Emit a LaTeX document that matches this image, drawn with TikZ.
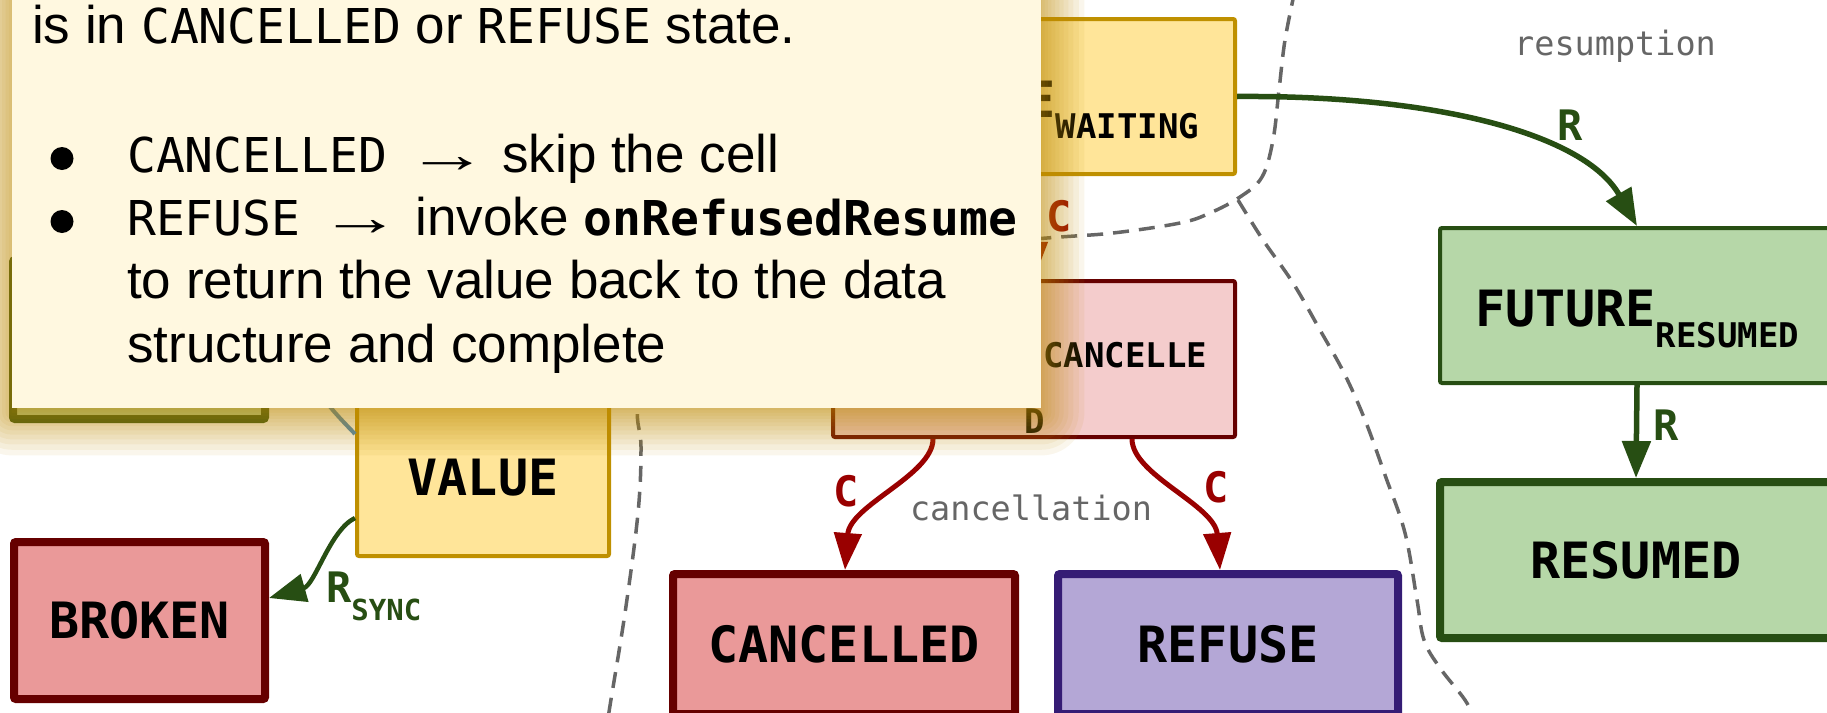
\documentclass[tikz,border=0pt]{standalone}
\usepackage{fontspec}
\setmainfont{Liberation Sans}
\newfontfamily\dmono{DejaVu Sans Mono}
\usetikzlibrary{arrows.meta,calc}

\definecolor{gfill}{HTML}{B6D7A8}
\definecolor{gdark}{HTML}{274E13}
\definecolor{yfill}{HTML}{FFE599}
\definecolor{ydark}{HTML}{BF9000}
\definecolor{pfill}{HTML}{F4CCCC}
\definecolor{rdark}{HTML}{660000}
\definecolor{rfill}{HTML}{EA9999}
\definecolor{vfill}{HTML}{B4A7D6}
\definecolor{vdark}{HTML}{351C75}
\definecolor{carrowc}{HTML}{990000}
\definecolor{bluec}{HTML}{3D85C6}
\definecolor{grayc}{HTML}{666666}
\definecolor{tipfill}{HTML}{FFF8E0}
\definecolor{shadowc}{RGB}{190,140,10}

\newcommand{\mybig}{\dmono\bfseries\fontsize{50}{60}\selectfont}
\newcommand{\mysub}{\dmono\bfseries\fontsize{34}{40}\selectfont}
\newcommand{\mylab}{\dmono\bfseries\fontsize{42}{50}\selectfont}
\newcommand{\mysync}{\dmono\bfseries\fontsize{29}{35}\selectfont}
\newcommand{\mygray}{\dmono\fontsize{33.5}{40}\selectfont}
\newcommand{\mysans}{\normalfont\fontsize{53}{64}\selectfont}
\newcommand{\mymono}{\dmono\fontsize{48}{58}\selectfont}
\newcommand{\mymonob}{\dmono\bfseries\fontsize{48}{58}\selectfont}
\newcommand{\tm}[1]{{\mymono #1}}
\newcommand{\tiparrow}{\hspace{35pt}\makebox[50pt][c]{\scalebox{1.55}[1]{→}}\hspace{30pt}}

\tikzset{
  stbox/.style={draw, rectangle, inner sep=0pt, rounded corners=2pt, font=\mybig, text=black},
  rarrow/.style={draw=gdark, line width=5.5pt, -{Triangle[length=37pt,width=28pt]}},
  carrow/.style={draw=carrowc, line width=5pt, -{Triangle[length=37pt,width=27pt]}},
  lblr/.style={text=gdark, font=\mylab, inner sep=0pt, anchor=base},
  lblc/.style={text=carrowc, font=\mylab, inner sep=0pt, anchor=base},
  region/.style={draw=grayc, line width=3.5pt, dash pattern=on 16pt off 10pt},
  grayl/.style={text=grayc, font=\mygray, anchor=base, inner sep=0pt},
  tiptext/.style={anchor=base west, inner sep=0pt, font=\mysans, text=black},
}

\begin{document}
\begin{tikzpicture}[x=1pt,y=-1pt]
\useasboundingbox (0,0) rectangle (1827,712);
\clip (0,0) rectangle (1827,712);

% region boundaries
\draw[region] plot[smooth, tension=0.6] coordinates {(1295,-10) (1285,40) (1279,90) (1273,140) (1262,177) (1240,197) (1210,213) (1180,223) (1113,233) (1047,238) (900,250) (720,290) (655,350) (638,408) (641,447) (638,513) (625,613) (609,712) (608,725)};
\draw[region] plot[smooth, tension=0.6] coordinates {(1238,200) (1263,240) (1293,283) (1320,330) (1344,373) (1365,420) (1385,475) (1405,533) (1417,600) (1424,640) (1440,668) (1465,700) (1475,720)};

\node[grayl] (resl) at (1615,55) {resumption};
\node[grayl] (canl) at (1031,520) {cancellation};

% states
\node[stbox, fill=gfill, draw=gdark, line width=8pt, minimum width=252pt, minimum height=159pt] (leftbox) at (139,339.5) {};
\node[stbox, fill=yfill, draw=ydark, line width=4pt, minimum width=252pt, minimum height=156pt] (value) at (483,478) {VALUE};
\node[stbox, fill=rfill, draw=rdark, line width=8pt, minimum width=251pt, minimum height=157pt] (broken) at (139.5,620.5) {BROKEN};
\node[stbox, fill=yfill, draw=ydark, line width=4pt, minimum width=403pt, minimum height=155pt] (waiting) at (1033.5,96.5) {};
\node[stbox, fill=pfill, draw=rdark, line width=4pt, minimum width=402pt, minimum height=156pt] (fcanc) at (1034,359) {};
\node[stbox, fill=gfill, draw=gdark, line width=4pt, minimum width=394pt, minimum height=155pt] (fres) at (1637,305.5) {};
\node[stbox, fill=gfill, draw=gdark, line width=8pt, minimum width=392pt, minimum height=156pt] (resumed) at (1636,560) {RESUMED};
\node[stbox, fill=rfill, draw=rdark, line width=8pt, minimum width=342pt, minimum height=140pt] (cancelled) at (844,644) {CANCELLED};
\node[stbox, fill=vfill, draw=vdark, line width=8pt, minimum width=340pt, minimum height=140pt] (refuse) at (1228,644) {REFUSE};

\node[anchor=base, inner sep=0pt, font=\mybig] (fresl) at (1637,326) {FUTURE\raisebox{-21pt}{\mysub RESUMED}};
\node[anchor=base west, inner sep=0pt, font=\mybig] (waitl) at (1025.5,117) {E\raisebox{-21pt}{\mysub WAITING}};
\node[anchor=base west, inner sep=0pt, font=\mysub] (fcanl1) at (1043,367) {CANCELLE};
\node[anchor=base west, inner sep=0pt, font=\mysub] (fcanl2) at (1024,433) {D};

% transitions
\coordinate (bluestart) at (290,340);
\draw[bluec, line width=4pt] (bluestart) .. controls (310,390) and (340,418) .. ($(value.west)+(0,-44)$);
\draw[rarrow] (waiting.east) .. controls (1440,95) and (1585,135) .. (fres.north);
\draw[rarrow] (fres.south) -- (resumed.north);
\draw[rarrow, line width=4.5pt] ($(value.west)+(0,40)$) .. controls (330,530) and (315,585) .. ($(broken.east)+(0,-22.5)$);
\draw[carrow] (waiting.south) -- (fcanc.north);
\draw[carrow] ($(fcanc.south)+(-101,0)$) .. controls (933,475) and (850,505) .. ($(cancelled.north)+(1,0)$);
\draw[carrow] ($(fcanc.south)+(98,0)$) .. controls (1132,475) and (1215,505) .. ($(refuse.north)+(-8,0)$);

\node[lblr] (lr1) at (1570,140) {R};
\node[lblr] (lr2) at (1666,440) {R};
\node[lblr, anchor=base west] (lrs) at (326,602) {R\raisebox{-18pt}{\mysync SYNC}};
\node[lblc] (lc0) at (1059,231) {C};
\node[lblc] (lc1) at (846,506) {C};
\node[lblc] (lc2) at (1216,502) {C};

% tooltip with soft shadow
\node[anchor=north west, minimum width=1029pt, minimum height=428pt, inner sep=0pt] (tip) at (12,-20) {};
\foreach \i in {0,...,19}{
  \pgfmathsetmacro{\r}{-12+55*(\i/19)^2}
  \pgfmathsetmacro{\rc}{max(\r,0.5)}
  \fill[shadowc, fill opacity=0.08, rounded corners=\rc pt] ($(tip.north west)+(-\r,-\r+4)$) rectangle ($(tip.south east)+(\r,\r+4)$);
}
\fill[tipfill] (tip.north west) rectangle (tip.south east);

\node[tiptext] (t1) at (32,43) {is in \tm{CANCELLED} or \tm{REFUSE} state.};
\fill (62,158.5) circle[radius=11.5pt];
\fill (62,221.5) circle[radius=11.5pt];
\node[tiptext] (t2) at (127,172) {\tm{CANCELLED}\tiparrow skip the cell};
\node[tiptext] (t3) at (127,235) {\tm{REFUSE}\tiparrow invoke {\mymonob onRefusedResume}};
\node[tiptext] (t4) at (127,298) {to return the value back to the data};
\node[tiptext] (t5) at (127,362) {structure and complete};
\end{tikzpicture}
\end{document}
